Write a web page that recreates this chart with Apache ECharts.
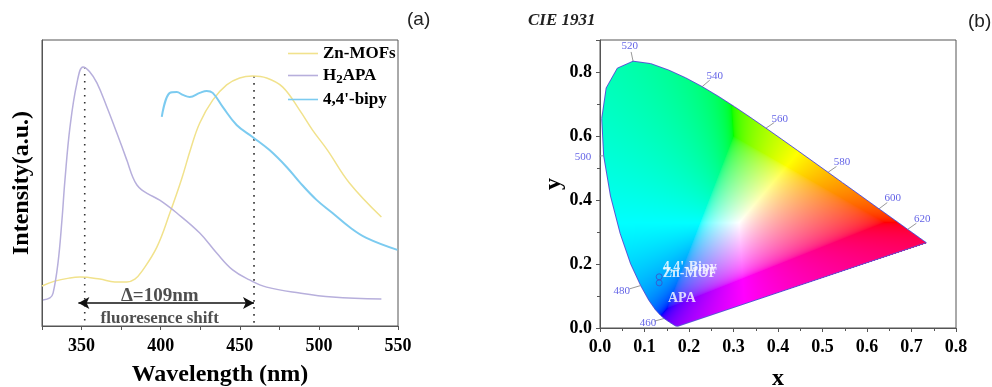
<!DOCTYPE html>
<html>
<head>
<meta charset="utf-8">
<script src="https://cdn.jsdelivr.net/npm/echarts@6/dist/echarts.min.js"></script>
<style>
  html, body { margin: 0; padding: 0; background: #fff; }
  #chart { width: 992px; height: 387px; }
</style>
</head>
<body>
<div id="chart"></div>
<script>
// ---- (a) emission spectra, [wavelength nm, intensity a.u.] ----
const znMofs = [[325,14],[333,15.7],[342.7,16.8],[349,17.1],[361.6,16.4],[371,15.4],[378.6,15.4],[383.7,16.4],
  [388,19],[397.6,27.6],[405.8,39.5],[413.3,51.5],[419,62],[424.7,71],[432.9,79],[441.7,84.3],
  [449.9,86.7],[458.1,87.4],[467,86.7],[477,83.6],[487.8,75.5],[496,68.5],[505.4,61.5],[519.3,50],[539.5,38.1]]
const h2apa = [[325.6,9.1],[330,9.8],[332,11.5],[335.1,22],[337.6,37],[339.5,51],[342.7,69.6],[347.1,85],[350.9,90.6],
  [355,89],[359.7,85],[366,76.6],[372.3,67.5],[378.6,58],[382.4,52],[385,49.3],[388,47.6],[392,46.2],[399.4,44],
  [410.2,39.5],[424.7,32.5],[435.4,25.5],[445.5,19.6],[456.2,16.1],[467,13.6],[487.8,11.5],[508.6,10.1],[539.5,9.4]]
const bipy = [[400.7,73.1],[405.8,81.5],[410.2,81.8],[414,80.8],[418.4,80.1],[424.7,81.5],[429.1,82.2],[432.9,81.5],
  [439.2,76.6],[448,70.3],[458.1,66.1],[468.8,61.5],[479.6,55.6],[487.8,50.3],[498.5,44.1],[508.6,39.5],
  [519.3,34.6],[530,30.8],[549.6,26.6]]
const peakWl = [352, 459]
const peakVal = [90.6, 87.4]
const shiftWl = [348, 459]
const shiftLevel = 8
const shiftText = ['Δ=109nm', 'fluoresence shift']
const shiftTextWl = [399.4, 399.4]
const shiftTextVal = [10.4, 2.7]
const shiftTextSize = [19, 17]

// ---- (b) CIE 1931 spectral locus ----
const locusWl = [380,400,420,430,440,450,460,465,470,475,480,485,490,495,500,505,510,515,520,525,530,535,540,545,550,
  555,560,565,570,575,580,585,590,595,600,610,620,630,640,650,660,680,700]
const locusX = [0.1741,0.1733,0.1714,0.1689,0.1644,0.1566,0.1440,0.1355,0.1241,0.1096,0.0913,0.0687,0.0454,0.0235,
  0.0082,0.0039,0.0139,0.0389,0.0743,0.1142,0.1547,0.1929,0.2296,0.2658,0.3016,0.3373,0.3731,0.4087,0.4441,0.4788,
  0.5125,0.5448,0.5752,0.6029,0.6270,0.6658,0.6915,0.7079,0.7190,0.7260,0.7300,0.7334,0.7347]
const locusY = [0.0050,0.0048,0.0051,0.0069,0.0109,0.0177,0.0297,0.0399,0.0578,0.0868,0.1327,0.2007,0.2950,0.4127,
  0.5384,0.6548,0.7502,0.8120,0.8338,0.8262,0.8059,0.7816,0.7543,0.7243,0.6923,0.6589,0.6245,0.5896,0.5547,0.5202,
  0.4866,0.4544,0.4242,0.3965,0.3725,0.3340,0.3083,0.2920,0.2809,0.2740,0.2700,0.2666,0.2653]
const tickWl = [520, 540, 560, 580, 600, 620, 500, 480, 460]
const tickLabelX = [0.067, 0.258, 0.404, 0.544, 0.658, 0.724, -0.038, 0.049, 0.108]
const tickLabelY = [0.882, 0.788, 0.654, 0.517, 0.405, 0.340, 0.533, 0.115, 0.016]
const samples = ["4,4'-Bipy", 'Zn-MOF']
const sampleX = [0.133, 0.133]
const sampleY = [0.160, 0.141]
const apaLabelXY = [0.184, 0.094]

const serif = '"Liberation Serif", "Times New Roman", serif'
const sans = '"Liberation Sans", Arial, sans-serif'
const axisColor = '#555'

// xy chromaticity -> display colour
function xyToRgb(x, y) {
  const X = x / y, Z = (1 - x - y) / y
  let r = 3.2406 * X - 1.5372 - 0.4986 * Z
  let g = -0.9689 * X + 1.8758 + 0.0415 * Z
  let b = 0.0557 * X - 0.2040 + 1.0570 * Z
  const m = Math.min(r, g, b)
  if (m < 0) { r -= m; g -= m; b -= m }
  const M = Math.max(r, g, b)
  return [r, g, b].map(c => {
    c = c / M
    c = c <= 0.0031308 ? 12.92 * c : 1.055 * Math.pow(c, 1 / 2.4) - 0.055
    return Math.round(255 * c)
  })
}

function insideLocus(x, y) {
  let inside = false
  const n = locusX.length
  for (let i = 0, j = n - 1; i < n; j = i++) {
    const xi = locusX[i], yi = locusY[i], xj = locusX[j], yj = locusY[j]
    if ((yi > y) !== (yj > y) && x < (xj - xi) * (y - yi) / (yj - yi) + xi) inside = !inside
  }
  return inside
}

let gamutCanvas = null
function renderGamut(params, api) {
  const p0 = api.coord([0, 0])
  const p1 = api.coord([0.8, 0.9])
  const x0 = Math.round(p0[0]), y1 = Math.round(p0[1])
  const x1 = Math.round(p1[0]), y0 = Math.round(p1[1])
  const w = x1 - x0, h = y1 - y0
  if (!gamutCanvas) {
    const c = document.createElement('canvas')
    c.width = w; c.height = h
    const ctx = c.getContext('2d')
    const img = ctx.createImageData(w, h)
    for (let j = 0; j < h; j++) {
      for (let i = 0; i < w; i++) {
        const cx = (i + 0.5) / w * 0.8
        const cy = 0.9 - (j + 0.5) / h * 0.9
        if (!insideLocus(cx, cy)) continue
        const rgb = xyToRgb(cx, cy)
        const k = (j * w + i) * 4
        img.data[k] = rgb[0]; img.data[k + 1] = rgb[1]; img.data[k + 2] = rgb[2]; img.data[k + 3] = 255
      }
    }
    ctx.putImageData(img, 0, 0)
    gamutCanvas = c
  }
  return { type: 'image', style: { image: gamutCanvas, x: x0, y: y0, width: w, height: h } }
}

const locusLine = locusX.map((x, i) => [x, locusY[i]])
locusLine.push([locusX[0], locusY[0]])

const leaders = tickWl.map((wl, i) => {
  const k = locusWl.indexOf(wl)
  const lx = locusX[k], ly = locusY[k]
  return { coords: [[lx, ly], [lx + (tickLabelX[i] - lx) * 0.6, ly + (tickLabelY[i] - ly) * 0.6]] }
})

const chart = echarts.init(document.getElementById('chart'))
const tickLabel = { color: '#000', fontFamily: serif, fontWeight: 'bold', fontSize: 18 }
const axisName = { color: '#000', fontFamily: serif, fontWeight: 'bold', fontSize: 24 }

chart.setOption({
  animation: false,
  backgroundColor: '#fff',
  grid: [
    { left: 42, top: 40, width: 356, height: 286, show: true, borderColor: axisColor, borderWidth: 1, outerBoundsMode: 'none' },
    { left: 600, top: 40, width: 356, height: 288, show: true, borderColor: axisColor, borderWidth: 1, outerBoundsMode: 'none' }
  ],
  legend: {
    data: [
      { name: 'Zn-MOFs', icon: 'rect' },
      { name: 'H2APA', icon: 'rect' },
      { name: '4,4\'-bipy', icon: 'rect' }
    ],
    orient: 'vertical',
    left: 288,
    top: 45,
    padding: 0,
    itemWidth: 30,
    itemHeight: 1.6,
    itemGap: 5,
    formatter: name => name === 'H2APA' ? 'H{s|2}APA' : name,
    textStyle: {
      color: '#000', fontFamily: serif, fontWeight: 'bold', fontSize: 17,
      rich: { s: { fontFamily: serif, fontWeight: 'bold', fontSize: 13, padding: [8, 0, 0, 0] } }
    }
  },
  title: [
    { text: '(a)', left: 407, top: 10, padding: 0, textStyle: { fontFamily: sans, fontWeight: 'normal', fontSize: 19, color: '#222' } },
    { text: '(b)', left: 968, top: 12, padding: 0, textStyle: { fontFamily: sans, fontWeight: 'normal', fontSize: 19, color: '#222' } },
    { text: 'CIE 1931', left: 528, top: 12, padding: 0, textStyle: { fontFamily: serif, fontWeight: 'bold', fontStyle: 'italic', fontSize: 17, color: '#222' } }
  ],
  xAxis: [
    {
      gridIndex: 0, type: 'value', min: 325, max: 550, interval: 25,
      name: 'Wavelength (nm)', nameLocation: 'middle', nameGap: 37, nameTextStyle: axisName,
      axisLine: { lineStyle: { color: axisColor } },
      axisTick: { length: 4, lineStyle: { color: axisColor } },
      axisLabel: Object.assign({ margin: 11, formatter: v => v % 50 === 0 ? String(v) : '' }, tickLabel),
      splitLine: { show: false }
    },
    {
      gridIndex: 1, type: 'value', min: 0, max: 0.8, interval: 0.1,
      name: 'x', nameLocation: 'middle', nameGap: 39, nameTextStyle: axisName,
      axisLine: { lineStyle: { color: axisColor } },
      axisTick: { length: 4, lineStyle: { color: axisColor } },
      minorTick: { show: true, splitNumber: 2, length: 3, lineStyle: { color: axisColor } },
      axisLabel: Object.assign({ margin: 10, formatter: v => v.toFixed(1) }, tickLabel),
      splitLine: { show: false }
    }
  ],
  yAxis: [
    {
      gridIndex: 0, type: 'value', min: 0, max: 100,
      name: 'Intensity(a.u.)', nameLocation: 'middle', nameGap: 8, nameTextStyle: axisName,
      axisLine: { show: true, lineStyle: { color: axisColor } },
      axisTick: { show: false }, axisLabel: { show: false }, splitLine: { show: false }
    },
    {
      gridIndex: 1, type: 'value', min: 0, max: 0.9, interval: 0.2,
      name: 'y', nameLocation: 'middle', nameGap: 34, nameTextStyle: axisName,
      axisLine: { show: true, lineStyle: { color: axisColor } },
      axisTick: { length: 4, lineStyle: { color: axisColor } },
      minorTick: { show: true, splitNumber: 2, length: 3, lineStyle: { color: axisColor } },
      axisLabel: Object.assign({ margin: 8, formatter: v => v > 0.85 ? '' : v.toFixed(1) }, tickLabel),
      splitLine: { show: false }
    }
  ],
  series: [
    // dotted peak markers
    ...peakWl.map((wl, i) => ({
      type: 'line', xAxisIndex: 0, yAxisIndex: 0, symbol: 'none', silent: true,
      data: [[wl, peakVal[i]], [wl, 0]],
      lineStyle: { color: '#333', width: 1.6, type: [1.6, 5.4] }
    })),
    {
      name: 'Zn-MOFs', type: 'line', xAxisIndex: 0, yAxisIndex: 0, symbol: 'none', smooth: 0.4,
      data: znMofs, lineStyle: { color: '#f1e28c', width: 1.5 }, itemStyle: { color: '#f1e28c' }
    },
    {
      name: 'H2APA', type: 'line', xAxisIndex: 0, yAxisIndex: 0, symbol: 'none', smooth: 0.4,
      data: h2apa, lineStyle: { color: '#b7afdc', width: 1.5 }, itemStyle: { color: '#b7afdc' }
    },
    {
      name: '4,4\'-bipy', type: 'line', xAxisIndex: 0, yAxisIndex: 0, symbol: 'none', smooth: 0.4,
      data: bipy, lineStyle: { color: '#7ccbf0', width: 2 }, itemStyle: { color: '#7ccbf0' }
    },
    {
      type: 'scatter', xAxisIndex: 0, yAxisIndex: 0, symbolSize: 0, silent: true,
      data: shiftText.map((t, i) => ({
        value: [shiftTextWl[i], shiftTextVal[i]], name: t,
        label: { fontSize: shiftTextSize[i] }
      })),
      label: {
        show: true, position: 'inside', formatter: p => p.name,
        color: '#222', fontFamily: serif, fontWeight: 'bold'
      },
      markLine: {
        silent: true, symbol: ['arrow', 'arrow'], symbolSize: [9, 11],
        lineStyle: { color: '#111', width: 1.5, type: 'solid' },
        label: { show: false },
        data: [[{ coord: [shiftWl[0], shiftLevel] }, { coord: [shiftWl[1], shiftLevel] }]]
      }
    },
    // CIE gamut fill
    {
      type: 'custom', xAxisIndex: 1, yAxisIndex: 1, silent: true, clip: false,
      data: [[0, 0]], renderItem: renderGamut, z: 1
    },
    {
      type: 'line', xAxisIndex: 1, yAxisIndex: 1, symbol: 'none', silent: true, z: 3,
      data: locusLine, lineStyle: { color: '#5a55d6', width: 1 }
    },
    {
      type: 'lines', coordinateSystem: 'cartesian2d', xAxisIndex: 1, yAxisIndex: 1, silent: true, z: 3,
      data: leaders, lineStyle: { color: '#999', width: 1, opacity: 1 }
    },
    {
      type: 'scatter', xAxisIndex: 1, yAxisIndex: 1, symbolSize: 0, silent: true, clip: false, z: 4,
      data: tickWl.map((wl, i) => ({ value: [tickLabelX[i], tickLabelY[i]], name: String(wl) })),
      label: { show: true, position: 'inside', formatter: p => p.name, color: '#3a3ae0', fontFamily: serif, fontSize: 11 }
    },
    {
      type: 'scatter', xAxisIndex: 1, yAxisIndex: 1, symbol: 'circle', symbolSize: 6, silent: true, z: 4,
      data: samples.map((s, i) => ({ value: [sampleX[i], sampleY[i]], name: s })),
      itemStyle: { color: 'rgba(0,0,0,0)', borderColor: '#3f4fc8', borderWidth: 1 },
      label: {
        show: true, position: 'right', offset: [-5, -9], formatter: p => p.name,
        color: '#fff', fontFamily: serif, fontWeight: 'bold', fontSize: 14
      }
    },
    {
      type: 'scatter', xAxisIndex: 1, yAxisIndex: 1, symbolSize: 0, silent: true, z: 4,
      data: [{ value: apaLabelXY, name: 'APA' }],
      label: { show: true, position: 'inside', formatter: p => p.name, color: '#fff', fontFamily: serif, fontWeight: 'bold', fontSize: 14 }
    }
  ]
})
</script>
</body>
</html>
